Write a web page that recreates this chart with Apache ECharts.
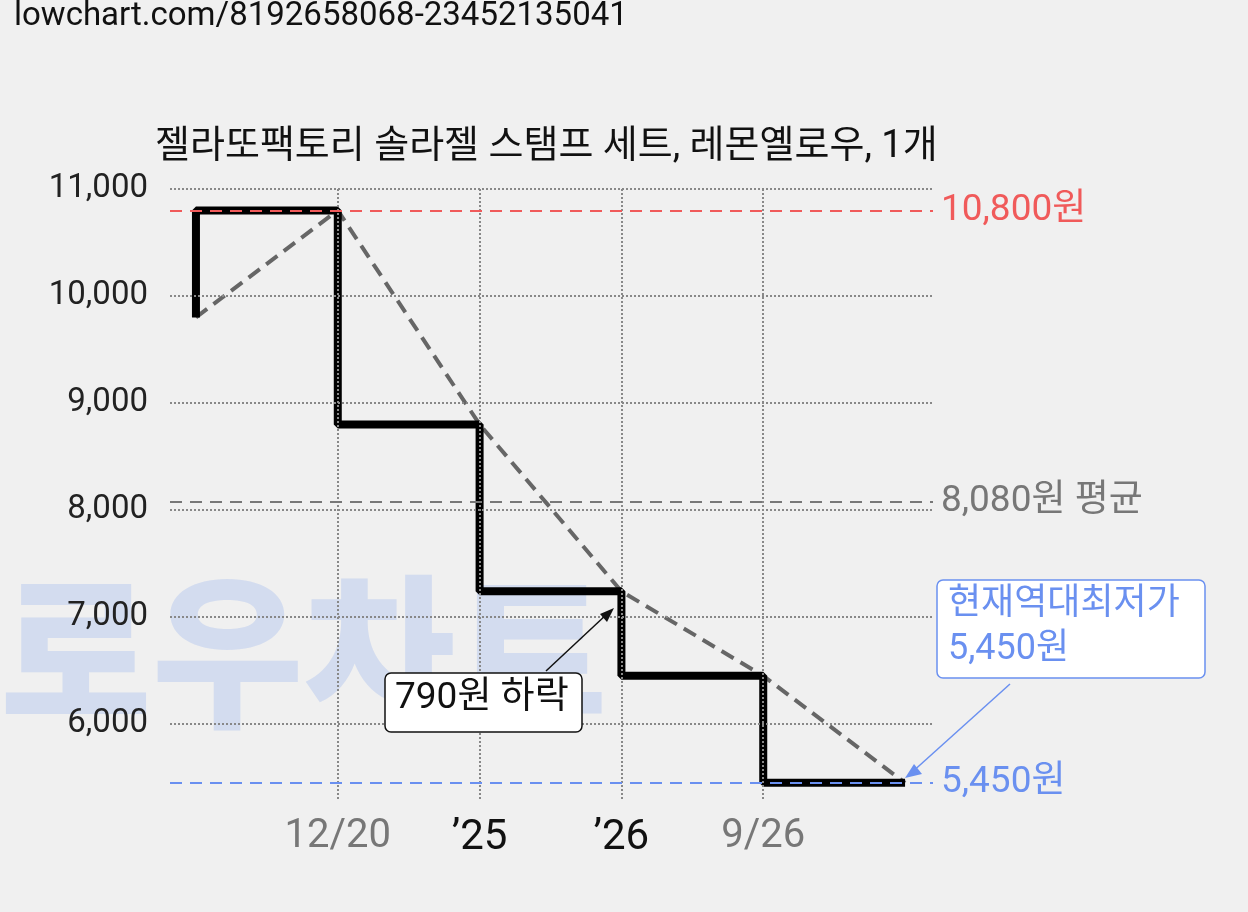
<!DOCTYPE html>
<html><head><meta charset="utf-8">
<script src="https://cdn.jsdelivr.net/npm/echarts@6/dist/echarts.min.js"></script>
<style>html,body{margin:0;background:#f0f0f0}#c{width:1248px;height:912px}</style>
</head><body><div id="c"></div>
<script>
const xIdx = [0,1,2,3,4,5];
const prices = [9800,10800,8800,7240,6450,5450];
const xTickPos = [1,2,3,4];
const xTickLabels = ['12/20','’25','’26','9/26'];
const yTicks = [6000,7000,8000,9000,10000,11000];
const maxPrice = 10800, avgPrice = 8080, minPrice = 5450;
const F = 'Roboto, "Noto Sans CJK KR", sans-serif';

const chart = echarts.init(document.getElementById('c'));
const pts = xIdx.map((x,i)=>[x,prices[i]]);
const grid = yTicks.map(v=>({yAxis:v}));
const vgrid = xTickPos.map(x=>[{coord:[x,11000]},{coord:[x,5300]}]);
chart.setOption({
  backgroundColor:'#f0f0f0',
  animation:false,
  textStyle:{fontFamily:F},
  grid:{left:170,right:315,top:189,bottom:81},
  xAxis:{type:'value',min:-0.183,max:5.197,axisLine:{show:false},axisTick:{show:false},splitLine:{show:false},
    axisLabel:{customValues:xTickPos,margin:-14,fontFamily:F,
      formatter:v=>{const i=xTickPos.indexOf(v);const t=xTickLabels[i];return t.startsWith('’')?'{b|'+t+'}':'{g|'+t+'}';},
      rich:{g:{fontSize:40,color:'#777',fontFamily:F},b:{fontSize:42,color:'#111',fontFamily:F}}}},
  yAxis:{type:'value',min:5000,max:11000,axisLine:{show:false},axisTick:{show:false},splitLine:{show:false},
    axisLabel:{customValues:yTicks,margin:22,fontSize:33,color:'#222',fontFamily:F,formatter:v=>v.toLocaleString('en-US')}},
  graphic:[
    {type:'text',left:14,top:0,style:{text:'lowchart.com/8192658068-23452135041',fontSize:33,fill:'#111',fontFamily:F}},
    {type:'text',left:155,top:128,style:{text:'젤라또팩토리 솔라젤 스탬프 세트, 레몬옐로우, 1개',fontSize:38,fill:'#111',fontFamily:F}},
    {type:'text',left:0,top:590,z:-1,style:{text:'로우차트',fontSize:165,fontWeight:900,fill:'rgba(110,150,235,0.22)',fontFamily:F}},
    {type:'rect',shape:{x:937,y:580,width:268,height:98,r:6},style:{fill:'#fff',stroke:'#6a90f0',lineWidth:1.5},z:10},
    {type:'text',left:948,top:582,z:11,style:{text:'현재역대최저가\n5,450원',fontSize:36,lineHeight:45,fill:'#6a90f0',fontFamily:F}},
    {type:'line',shape:{x1:1010,y1:684,x2:910,y2:774},style:{stroke:'#6a90f0',lineWidth:1.5},z:10},
    {type:'polygon',shape:{points:[[905,778],[922,774],[914,764]]},style:{fill:'#6a90f0'},z:10},
    {type:'rect',shape:{x:385,y:673,width:197,height:59,r:6},style:{fill:'#fff',stroke:'#111',lineWidth:1.5},z:10},
    {type:'text',left:395,top:680,z:11,style:{text:'790원 하락',fontSize:37,fill:'#111',fontFamily:F}},
    {type:'line',shape:{x1:546,y1:671,x2:607,y2:614},style:{stroke:'#111',lineWidth:1.5},z:10},
    {type:'polygon',shape:{points:[[614,608],[600,614],[607,622]]},style:{fill:'#111'},z:10}
  ],
  series:[
    {type:'line',data:[],symbol:'none',silent:true,z:1,
      markLine:{silent:true,symbol:'none',label:{show:false},
        lineStyle:{color:'#888',type:'dotted',width:2},data:grid.concat(vgrid)}},
    {type:'line',data:pts,symbol:'none',silent:true,lineStyle:{color:'#666',width:4,type:[14,8]},z:3},
    {type:'line',data:pts,step:'start',symbol:'none',silent:true,lineStyle:{color:'#000',width:8},z:4,
      markLine:{silent:true,symbol:'none',
        data:[
          {yAxis:maxPrice,lineStyle:{color:'#f05a5a',type:[12,8],width:2},label:{formatter:'10,800원',color:'#f05a5a'}},
          {yAxis:avgPrice,lineStyle:{color:'#777',type:[12,8],width:2},label:{formatter:'8,080원 평균',color:'#777'}},
          {yAxis:minPrice,lineStyle:{color:'#6a90f0',type:[12,8],width:2},label:{formatter:'5,450원',color:'#6a90f0'}}
        ],
        label:{position:'end',fontSize:37,distance:8,fontFamily:F}}}
  ]
});
</script></body></html>
